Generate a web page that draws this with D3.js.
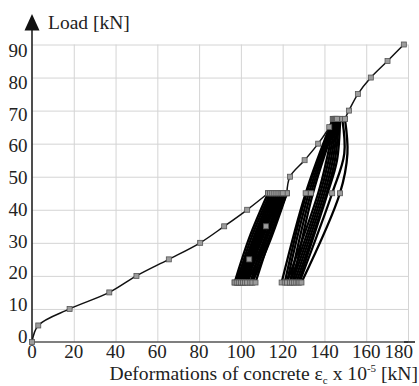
<!DOCTYPE html>
<html>
<head>
<meta charset="utf-8">
<script src="https://cdn.jsdelivr.net/npm/d3@7"></script>
<style>
  body { margin: 0; background: #fff; }
</style>
</head>
<body>
<div id="chart"></div>
<script>
const xTicks = [0, 20, 40, 60, 80, 100, 120, 140, 160, 180];
const yTicks = [0, 10, 20, 30, 40, 50, 60, 70, 80, 90];

// monotonic envelope, split where the cycles sit
const envelopeA = [[0, 0], [3, 5], [18, 10], [37, 15], [50, 20], [65.5, 25], [80.5, 30], [92, 35], [103, 40], [113, 45]];
const envelopeB = [[122, 45], [123.5, 50], [130.5, 55], [137, 60], [142.3, 65], [144, 67.5]];
const envelopeC = [[149.8, 67.5], [151.7, 70], [156, 75], [162.2, 80], [170.2, 85], [178, 90]];

// cycles 18 - 45 kN
const unload1 = [
  [[113, 45], [104, 31.5], [97, 18]],
  [[114, 45], [105, 31.5], [98, 18]],
  [[115, 45], [106, 31.5], [99, 18]],
  [[116, 45], [107, 31.5], [100, 18]],
  [[117, 45], [108, 31.5], [101, 18]],
  [[118, 45], [109, 31.5], [102, 18]],
  [[119, 45], [110, 31.5], [103, 18]],
  [[120, 45], [111.5, 31.5], [104.5, 18]],
  [[121, 45], [112.5, 31.5], [105.5, 18]],
  [[122, 45], [114, 31.5], [107, 18]]
];
const reload1 = [
  [[97, 18], [106.5, 31.5], [114, 45]],
  [[98, 18], [107.5, 31.5], [115, 45]],
  [[99, 18], [108.5, 31.5], [116, 45]],
  [[100, 18], [109.5, 31.5], [117, 45]],
  [[101, 18], [110.5, 31.5], [118, 45]],
  [[102, 18], [111.5, 31.5], [119, 45]],
  [[103, 18], [112.5, 31.5], [120, 45]],
  [[104.5, 18], [113.5, 31.5], [121, 45]],
  [[105.5, 18], [114.5, 31.5], [122, 45]],
  [[98.5, 18], [104, 25], [112, 35], [120, 45]]
];

// cycles 18 - 67.5 kN
const reload2 = [
  [[119.5, 18], [131, 45], [144, 67.5]],
  [[121, 18], [131.5, 45], [144.5, 67.5]],
  [[122, 18], [132.5, 45], [145, 67.5]],
  [[123.5, 18], [133.5, 45], [145.5, 67.5]],
  [[125, 18], [134.5, 45], [146, 67.5]]
];
const unload2 = [
  [[145, 67.5], [141, 55], [137, 45], [122, 18]],
  [[145.5, 67.5], [142, 55], [138, 45], [123.5, 18]],
  [[146, 67.5], [143, 55], [139, 45], [124.5, 18]],
  [[146.5, 67.5], [144, 55], [140, 45], [125.5, 18]],
  [[147, 67.5], [145, 55], [141, 45], [126.5, 18]],
  [[147.5, 67.5], [146, 55], [141.5, 45], [127.5, 18]],
  [[148.5, 67.5], [149.5, 57], [143.7, 45], [128, 18]],
  [[149.8, 67.5], [151, 57], [147.4, 45], [129, 18]]
];
const extraMarkers = [[104, 25], [112, 35], [131, 45], [133.5, 45], [143.7, 45], [147.4, 45]];

const FONT = '"Liberation Serif", "Times New Roman", serif';
const width = 419, height = 386;
const svg = d3.select('#chart').append('svg')
    .attr('width', width)
    .attr('height', height)
    .style('display', 'block');

const x = d3.scaleLinear().domain([0, 180]).range([32, 408]);
const y = d3.scaleLinear().domain([0, 90]).range([342, 44.5]);
// tick labels in the original sit on a slightly tighter spacing than the grid
const yLab = d3.scaleLinear().domain([0, 90]).range([343, 57]);

// grid
svg.append('g')
    .attr('transform', `translate(0,${y(0)})`)
    .call(d3.axisBottom(x).tickValues(xTicks.slice(1)).tickSize(-(y(0) - y(90))).tickFormat(''))
    .call(g => g.select('.domain').remove())
    .call(g => g.selectAll('line').attr('stroke', '#d4d4d4').attr('stroke-width', 1));

svg.append('g')
    .attr('transform', `translate(${x(0)},0)`)
    .call(d3.axisLeft(y).tickValues(yTicks.slice(1)).tickSize(-(x(180) - x(0))).tickFormat(''))
    .call(g => g.select('.domain').remove())
    .call(g => g.selectAll('line').attr('stroke', '#d4d4d4').attr('stroke-width', 1));

// axes lines
svg.append('line')
    .attr('x1', x(0)).attr('x2', x(180)).attr('y1', y(0)).attr('y2', y(0))
    .attr('stroke', '#555').attr('stroke-width', 1.4);
svg.append('line')
    .attr('x1', x(180) - 4).attr('x2', x(180) + 7).attr('y1', y(0)).attr('y2', y(0))
    .attr('stroke', '#222').attr('stroke-width', 1.6);
svg.append('line')
    .attr('x1', x(0)).attr('x2', x(0)).attr('y1', y(0)).attr('y2', 28)
    .attr('stroke', '#222').attr('stroke-width', 1.6);
svg.append('path')
    .attr('d', `M${x(0)},14 L${x(0) - 7.5},30.5 L${x(0) + 7.5},30.5 Z`)
    .attr('fill', '#111');

// tick labels
svg.append('g').selectAll('text')
    .data(xTicks)
    .join('text')
    .attr('x', d => d === 180 ? x(d) + 5 : x(d))
    .attr('y', 358)
    .attr('text-anchor', d => d === 180 ? 'end' : 'middle')
    .style('font-family', FONT)
    .style('font-size', '19px')
    .attr('fill', '#222')
    .text(d => d);

svg.append('g').selectAll('text')
    .data(yTicks)
    .join('text')
    .attr('x', 27.5)
    .attr('y', d => yLab(d))
    .attr('text-anchor', 'end')
    .style('font-family', FONT)
    .style('font-size', '19px')
    .attr('fill', '#222')
    .text(d => d);

// titles
svg.append('text')
    .attr('x', 48)
    .attr('y', 29)
    .style('font-family', FONT)
    .style('font-size', '19.5px')
    .attr('fill', '#222')
    .text('Load [kN]');

const xt = svg.append('text')
    .attr('x', 418)
    .attr('y', 380)
    .attr('text-anchor', 'end')
    .style('font-family', FONT)
    .style('font-size', '19.6px')
    .attr('fill', '#222');
xt.append('tspan').text('Deformations of concrete ε');
xt.append('tspan').style('font-size', '11px').attr('dy', 4).text('c');
xt.append('tspan').attr('dy', -4).text(' x 10');
xt.append('tspan').style('font-size', '11px').attr('dy', -8).text('-5');
xt.append('tspan').attr('dy', 8).text(' [kN]');

// curves
const line = d3.line()
    .x(d => x(d[0]))
    .y(d => y(d[1]))
    .curve(d3.curveCatmullRom.alpha(0.5));

const cyclePaths = [...unload1, ...reload1, ...reload2, ...unload2];
svg.append('g').selectAll('path.cycle')
    .data(cyclePaths)
    .join('path')
    .attr('class', 'cycle')
    .attr('d', line)
    .attr('fill', 'none')
    .attr('stroke', '#000')
    .attr('stroke-width', 2.3);

svg.append('g').selectAll('path.env')
    .data([envelopeA, envelopeB, envelopeC])
    .join('path')
    .attr('class', 'env')
    .attr('d', line)
    .attr('fill', 'none')
    .attr('stroke', '#111')
    .attr('stroke-width', 1.5);

// markers
const markerPts = [
  ...envelopeA, ...envelopeB, ...envelopeC,
  ...cyclePaths.map(p => p[0]), ...cyclePaths.map(p => p[p.length - 1]),
  ...extraMarkers
];
const ms = 5;
svg.append('g').selectAll('rect')
    .data(markerPts)
    .join('rect')
    .attr('x', d => x(d[0]) - ms / 2)
    .attr('y', d => y(d[1]) - ms / 2)
    .attr('width', ms)
    .attr('height', ms)
    .attr('fill', '#9c9c9c')
    .attr('stroke', '#555')
    .attr('stroke-width', 0.8);
</script>
</body>
</html>
